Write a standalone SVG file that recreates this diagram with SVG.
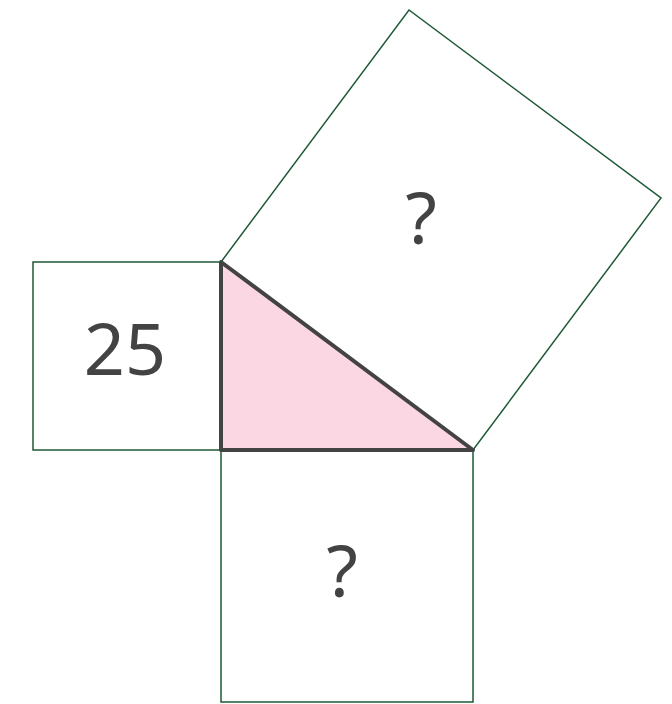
<svg xmlns="http://www.w3.org/2000/svg" width="672" height="704" viewBox="0 0 672 704">
<style>
.sq{fill:#fff;stroke:#1d5a35;stroke-width:1.5}
.lbl{font-family:"Noto Sans",sans-serif;fill:#434343;text-anchor:middle;font-size:72px}
</style>
<rect width="672" height="704" fill="#fff"/>
<g id="square-left">
<rect class="sq" x="33" y="262" width="188" height="188"/>
<text class="lbl" x="125" y="375">25</text>
</g>
<g id="square-bottom">
<rect class="sq" x="221" y="450" width="252" height="252"/>
<text class="lbl" x="342" y="597">?</text>
</g>
<g id="square-hyp">
<polygon class="sq" points="221,262 409,10 661,198 473,450"/>
<text class="lbl" x="421" y="244">?</text>
</g>
<g id="triangle">
<polygon points="221,262 221,450 473,450" fill="#fbd6e3" stroke="#434343" stroke-width="4" stroke-linejoin="round"/>
</g>
</svg>
